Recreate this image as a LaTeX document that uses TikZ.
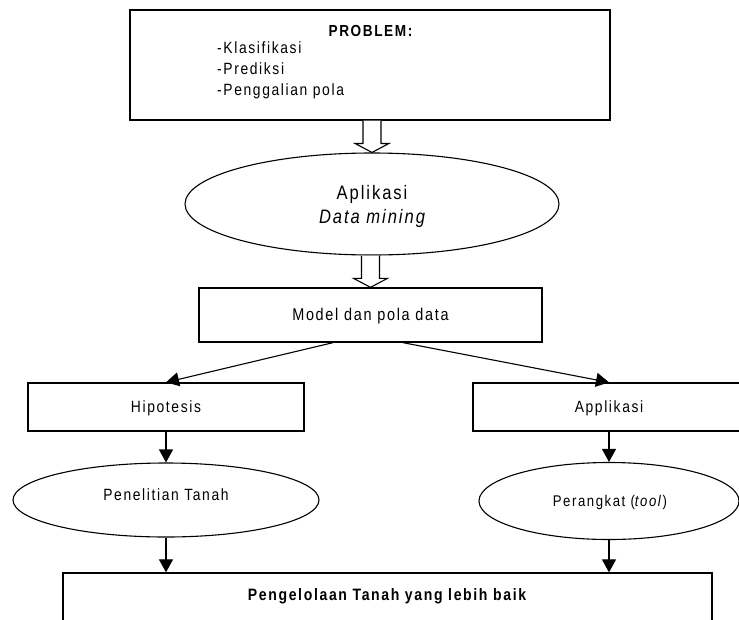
\documentclass[tikz,border=0pt]{standalone}
\usepackage{fontspec}
\setmainfont{Liberation Sans}[FakeStretch=0.85, LetterSpace=10]
\usetikzlibrary{arrows.meta,calc,shapes.geometric}
\tikzset{
  box/.style={draw, line width=1.3pt, rectangle, inner sep=0pt},
  oval/.style={draw, line width=1.1pt, ellipse, inner sep=0pt},
  txt/.style={inner sep=0pt, align=left},
  conn/.style={line width=1.1pt, -{Triangle[length=13pt,width=14pt]}},
  hollow/.style={draw, line width=1.1pt, fill=white, line join=miter},
}
\begin{document}
\begin{tikzpicture}[x=1pt,y=-1pt]
\useasboundingbox (0,0) rectangle (739,619);
% top box
\node[box, minimum width=480pt, minimum height=110pt] (prob) at (370,65) {};
\node[txt, font=\bfseries\fontsize{16}{19}\selectfont] (probt) at (370.5,31) {PROBLEM:};
\node[txt, anchor=north west, font=\fontsize{16.3}{21}\selectfont] (list) at (217,41) {-Klasifikasi\\-Prediksi\\-Penggalian pola};
% ellipse 1
\node[oval, minimum width=374pt, minimum height=102pt] (apl) at (372,204) {};
\node[txt, align=center, font=\fontsize{19.5}{24}\selectfont] (aplt) at (372,206) {Aplikasi\\\itshape Data mining};
% model
\node[box, minimum width=343pt, minimum height=54pt] (model) at (370.5,315) {};
\node[txt, font=\fontsize{17}{20}\selectfont] (modelt) at (370.5,316) {Model dan pola data};
% hipotesis / applikasi
\node[box, minimum width=276pt, minimum height=48pt] (hip) at (166,407) {};
\node[txt, font=\fontsize{16.3}{19}\selectfont] (hipt) at (166,408) {Hipotesis};
\node[box, minimum width=272pt, minimum height=48pt] (app) at (609,407) {};
\node[txt, font=\fontsize{16.3}{19}\selectfont] (appt) at (609,408) {Applikasi};
% ellipses
\node[oval, minimum width=306pt, minimum height=74pt] (pen) at (166,500) {};
\node[txt, font=\fontsize{16.3}{19}\selectfont] (pent) at (166,495) {Penelitian Tanah};
\node[oval, minimum width=260pt, minimum height=77pt] (per) at (609,501) {};
\node[txt, font=\fontsize{15.5}{19}\selectfont] (pert) at (610,502) {Perangkat (\textit{tool})};
% bottom box
\node[box, minimum width=649pt, minimum height=67pt] (bot) at (387.5,606.5) {};
\node[txt, font=\bfseries\fontsize{16.5}{19}\selectfont] (bott) at (387,596) {Pengelolaan Tanah yang lebih baik};
% hollow arrows
\path[hollow] ($(prob.south -| apl.north)+(-9,0)$) -- ($(apl.north)+(-9,-9)$) -- ($(apl.north)+(-17,-9)$) -- (apl.north) -- ($(apl.north)+(17,-9)$) -- ($(apl.north)+(9,-9)$) -- ($(prob.south -| apl.north)+(9,0)$);
\path[hollow] ($(apl.south -| model.north)+(-9,0)$) -- ($(model.north)+(-9,-9)$) -- ($(model.north)+(-17,-9)$) -- (model.north) -- ($(model.north)+(17,-9)$) -- ($(model.north)+(9,-9)$) -- ($(apl.south -| model.north)+(9,0)$);
% connectors
\draw[conn] ($(model.south)+(-37.5,0)$) -- (hip.north);
\draw[conn] ($(model.south)+(32.5,0)$) -- (app.north);
\draw[conn] (hip.south) -- (pen.north);
\draw[conn] (app.south) -- (per.north);
\draw[conn] (pen.south) -- (pen.south |- bot.north);
\draw[conn] (per.south) -- (per.south |- bot.north);
\end{tikzpicture}
\end{document}
